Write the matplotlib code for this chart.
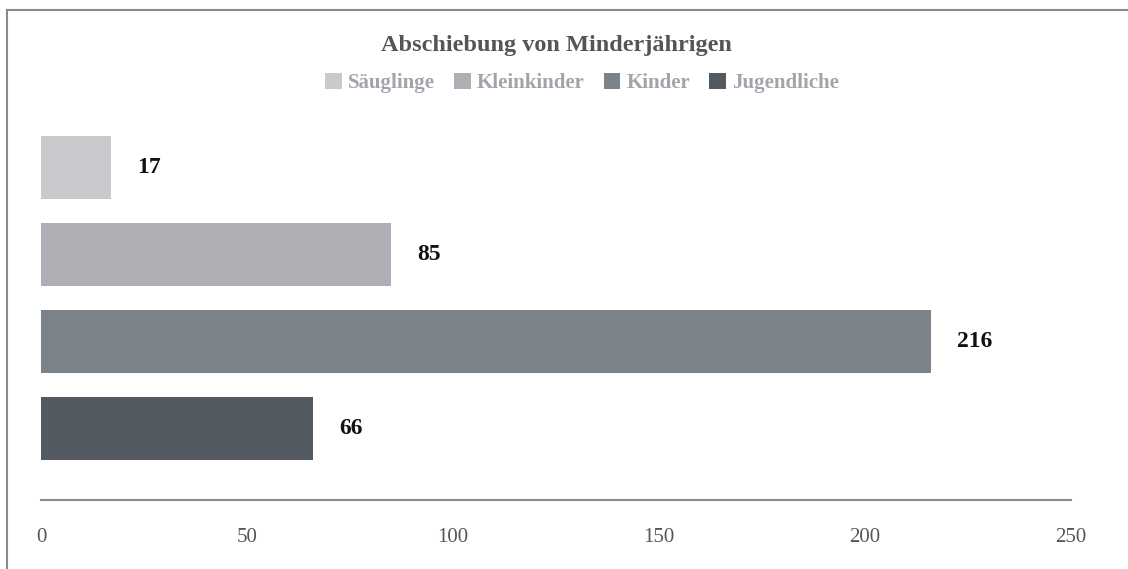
import matplotlib.pyplot as plt
from matplotlib.patches import Patch
from matplotlib.lines import Line2D

# Daten
categories = ['Säuglinge', 'Kleinkinder', 'Kinder', 'Jugendliche']
values = [17, 85, 216, 66]
colors = ['#cbc9ce', '#adafb5', '#7c8289', '#545a61']
xticks = [0, 50, 100, 150, 200, 250]

plt.rcParams['font.family'] = ['Liberation Serif', 'DejaVu Serif']

W, H = 1128, 569
fig = plt.figure(figsize=(W / 100, H / 100), dpi=100)

# Achse in Pixelkoordinaten platzieren
left, right, top, bottom = 41, 1071, 120, 500
ax = fig.add_axes([left / W, (H - bottom) / H, (right - left) / W, (bottom - top) / H])

ypos = list(range(len(categories)))
ax.barh(ypos, values, height=0.724, color=colors)

for y, v in zip(ypos, values):
    ax.annotate(str(v), xy=(v, y), xytext=(19, 0), textcoords='offset points',
                va='center', ha='left', fontsize=17, fontweight='bold', color='#111111')

ax.set_xlim(0, 250)
ax.set_ylim(3.822, -0.546)
ax.set_xticks(xticks)
ax.set_xticklabels([str(t) for t in xticks], fontsize=15, color='#555555')
ax.tick_params(axis='x', length=0, pad=20)
ax.set_yticks([])
for s in ['top', 'right', 'left']:
    ax.spines[s].set_visible(False)
ax.spines['bottom'].set_color('#8a8a8a')
ax.spines['bottom'].set_linewidth(1.5)

# Titel und Legende
fig.text(556 / W, 1 - 46 / H, 'Abschiebung von Minderjährigen', ha='center', va='center',
         fontsize=17.5, fontweight='bold', color='#555555')
handles = [Patch(facecolor=c, edgecolor='none') for c in colors]
leg = fig.legend(handles, categories, loc='center', bbox_to_anchor=(582 / W, 1 - 83 / H),
                 ncol=4, frameon=False, handlelength=0.8, handleheight=0.8,
                 handletextpad=0.3, columnspacing=0.9, prop={'size': 15, 'weight': 'bold'})
for t in leg.get_texts():
    t.set_color('#a3a3ab')

# Rahmen (nur oben und links sichtbar)
fig.add_artist(Line2D([7 / W, 7 / W], [0, 1 - 9.5 / H], transform=fig.transFigure,
                      color='#8a8a8a', linewidth=1.5))
fig.add_artist(Line2D([7 / W, 1], [1 - 9.5 / H, 1 - 9.5 / H], transform=fig.transFigure,
                      color='#8a8a8a', linewidth=1.5))

fig.savefig('out.png', dpi=100, facecolor='white')
